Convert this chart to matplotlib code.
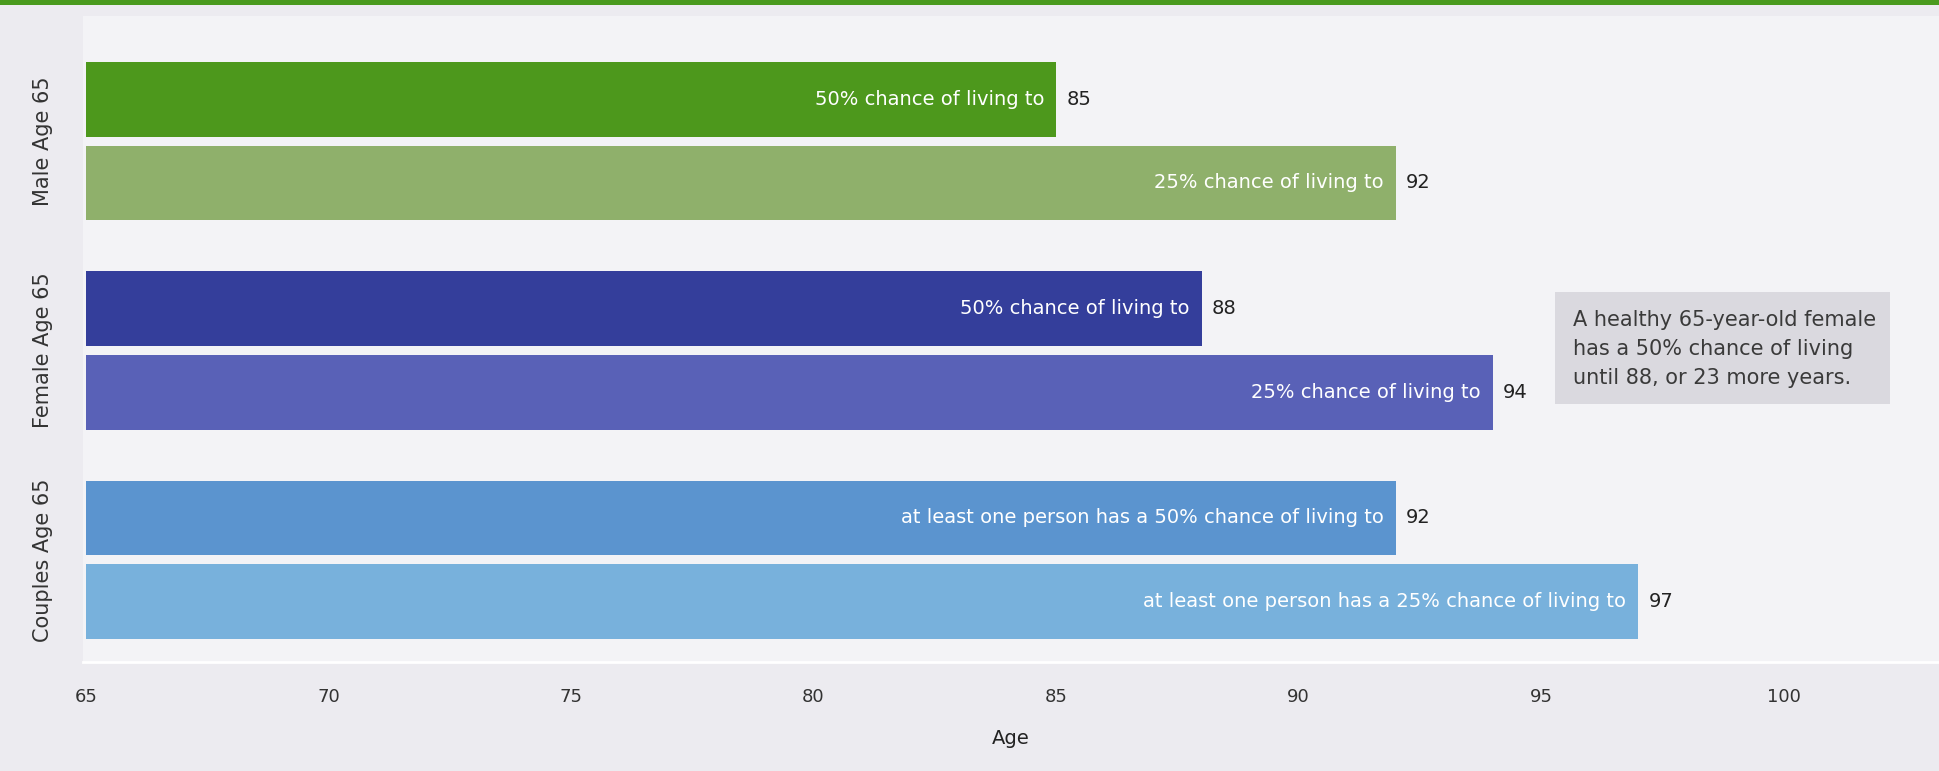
import matplotlib
matplotlib.use("Agg")
import matplotlib.pyplot as plt
from matplotlib.patches import Rectangle
from matplotlib.transforms import blended_transform_factory

# data
groups = ["Male Age 65", "Female Age 65", "Couples Age 65"]
bar_labels = [
    "50% chance of living to",
    "25% chance of living to",
    "50% chance of living to",
    "25% chance of living to",
    "at least one person has a 50% chance of living to",
    "at least one person has a 25% chance of living to",
]
ages = [85, 92, 88, 94, 92, 97]
colors = ["#4d981c", "#8fb06b", "#343e9b", "#5961b7", "#5b94cf", "#78b1dc"]
y_pos = [0, 1, 2.5, 3.5, 5, 6]
group_centers = [0.5, 3.0, 5.5]
x_ticks = [65, 70, 75, 80, 85, 90, 95, 100]
base_age = 65
note = "A healthy 65-year-old female\nhas a 50% chance of living\nuntil 88, or 23 more years."

W, H = 1939, 771
fig = plt.figure(figsize=(W / 100, H / 100), dpi=100)
fig.patch.set_facecolor("#ecebf0")

# top green rule
fig.add_artist(Rectangle((0, 1 - 5 / H), 1, 5 / H, transform=fig.transFigure,
                         color="#4a9a1e", lw=0))

ax = fig.add_axes([83 / W, 1 - 662 / H, 1 - 83 / W, (662 - 16) / H])
ax.set_facecolor("#f3f3f6")

widths = [a - base_age for a in ages]
ax.barh(y_pos, widths, left=base_age, height=0.89, color=colors, edgecolor="none")

for y, a, lab in zip(y_pos, ages, bar_labels):
    ax.annotate(lab, (a, y), xytext=(-8.5, 0), textcoords="offset points",
                ha="right", va="center", color="white", fontsize=14)
    ax.annotate(str(a), (a, y), xytext=(7.5, 0), textcoords="offset points",
                ha="left", va="center", color="#222222", fontsize=14)

px_per_unit = 48.5
ax.set_xlim(base_age - 3 / px_per_unit, base_age + (W - 86) / px_per_unit)
ax.set_ylim(6 + 60.5 / 84, -83.5 / 84)

ax.set_xticks(x_ticks)
ax.set_xticklabels([str(t) for t in x_ticks], fontsize=13, color="#333333")
ax.tick_params(axis="x", length=0, pad=19)
ax.set_yticks([])
ax.set_xlabel("Age", fontsize=14, color="#222222", labelpad=16)

for s in ["top", "left", "right"]:
    ax.spines[s].set_visible(False)
ax.spines["bottom"].set_color("white")
ax.spines["bottom"].set_linewidth(2)

trans = blended_transform_factory(ax.transAxes, ax.transData)
for g, yc in zip(groups, group_centers):
    ax.text(-40 / (W - 83), yc, g, transform=trans, rotation=90,
            ha="center", va="center", fontsize=15, color="#333333")

# callout box
fig.add_artist(Rectangle((1555 / W, 1 - 404 / H), 335 / W, 112 / H,
                         transform=fig.transFigure, color="#dad9df", lw=0))
fig.text(1573 / W, 1 - 349 / H, note, ha="left", va="center", fontsize=15,
         color="#3a3a3a", linespacing=1.55)

fig.savefig("out.png", dpi=100, facecolor=fig.get_facecolor())
